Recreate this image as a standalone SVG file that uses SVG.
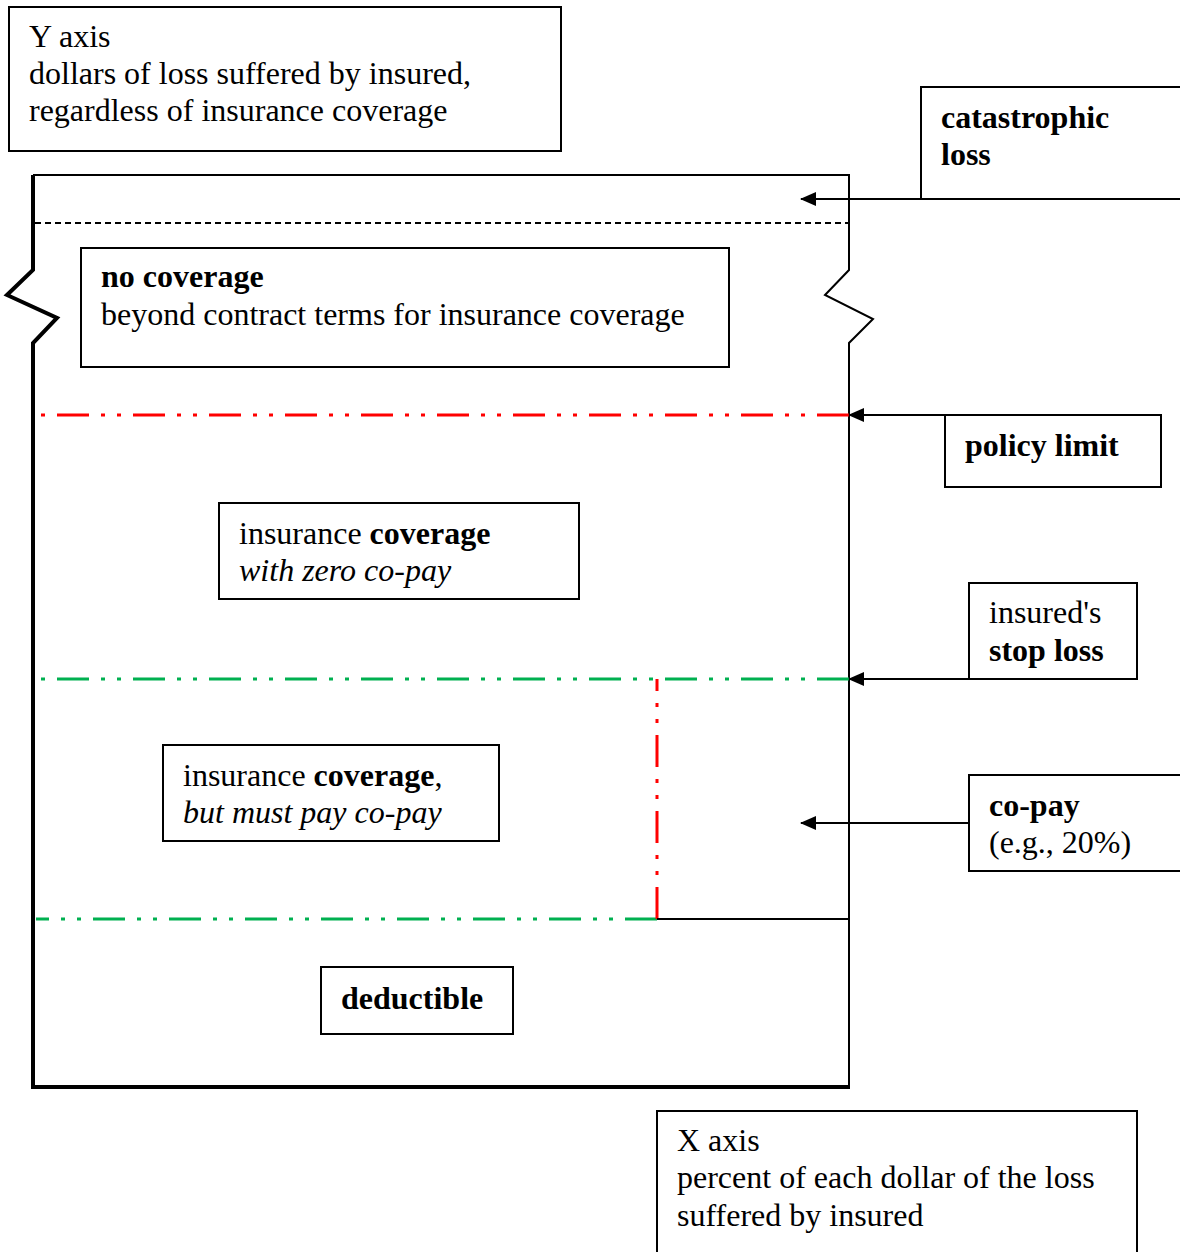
<svg xmlns="http://www.w3.org/2000/svg" width="1180" height="1252" viewBox="0 0 1180 1252">
<defs>
<marker id="ah" markerWidth="16" markerHeight="14" refX="15" refY="7" orient="auto" markerUnits="userSpaceOnUse">
<path d="M0,0 L16,7 L0,14 Z" fill="#000"/>
</marker>
<style>
text{font-family:"Liberation Serif","Times New Roman",serif;font-size:32px;fill:#000}
.b{font-weight:bold}
.i{font-style:italic}
.box{fill:#fff;stroke:#000;stroke-width:2}
.ln{fill:none;stroke:#000;stroke-width:2}
.ax{fill:none;stroke:#000;stroke-width:4}
.red{fill:none;stroke:#ff0000;stroke-width:3;stroke-dasharray:4 12 32 12 4 12}
.grn{fill:none;stroke:#00b050;stroke-width:3;stroke-dasharray:4 12 32 12 4 12}
.arr{fill:none;stroke:#000;stroke-width:2;marker-end:url(#ah)}
</style>
</defs>
<g id="frame">
<path class="ln" d="M33,175 H849 V270 L825,295 L873,319 L849,343 V1089"/>
<path class="ax" d="M33,175 V270 L7,295 L57,318 L33,343 V1087 H849"/>
<line x1="35" y1="223" x2="849" y2="223" stroke="#000" stroke-width="2" stroke-dasharray="6 4"/>
<line class="red" x1="41" y1="415" x2="849" y2="415"/>
<line class="grn" x1="41" y1="679" x2="849" y2="679"/>
<line class="grn" x1="36" y1="919" x2="657" y2="919" style="stroke-dasharray:32 12 4 12 4 12;stroke-dashoffset:19"/>
<line class="red" x1="657" y1="679" x2="657" y2="919" style="stroke-dasharray:32 12 4 12 4 12;stroke-dashoffset:20"/>
<line class="ln" x1="657" y1="919" x2="849" y2="919"/>
</g>
<g id="y-axis">
<rect class="box" x="9" y="7" width="552" height="144"/>
<text x="29" y="47">Y axis</text>
<text x="29" y="84">dollars of loss suffered by insured,</text>
<text x="29" y="121">regardless of insurance coverage</text>
</g>
<g id="catastrophic">
<path class="ln" d="M1182,87 H921 V199 H1182"/>
<text class="b" x="941" y="128">catastrophic</text>
<text class="b" x="941" y="165">loss</text>
</g>
<g id="no-coverage">
<rect class="box" x="81" y="248" width="648" height="119"/>
<text class="b" x="101" y="287">no coverage</text>
<text x="101" y="325">beyond contract terms for insurance coverage</text>
</g>
<g id="policy-limit">
<rect class="box" x="945" y="415" width="216" height="72"/>
<text class="b" x="965" y="456">policy limit</text>
</g>
<g id="zero-copay">
<rect class="box" x="219" y="503" width="360" height="96"/>
<text x="239" y="544">insurance <tspan class="b">coverage</tspan></text>
<text class="i" x="239" y="581">with zero co-pay</text>
</g>
<g id="stop-loss">
<rect class="box" x="969" y="583" width="168" height="96"/>
<text x="989" y="623">insured's</text>
<text class="b" x="989" y="661">stop loss</text>
</g>
<g id="with-copay">
<rect class="box" x="163" y="745" width="336" height="96"/>
<text x="183" y="786">insurance <tspan class="b">coverage</tspan>,</text>
<text class="i" x="183" y="823">but must pay co-pay</text>
</g>
<g id="co-pay">
<rect class="box" x="969" y="775" width="220" height="96"/>
<text class="b" x="989" y="816">co-pay</text>
<text x="989" y="853">(e.g., 20%)</text>
</g>
<g id="deductible">
<rect class="box" x="321" y="967" width="192" height="67"/>
<text class="b" x="341" y="1009">deductible</text>
</g>
<g id="x-axis">
<rect class="box" x="657" y="1111" width="480" height="150"/>
<text x="677" y="1151">X axis</text>
<text x="677" y="1188">percent of each dollar of the loss</text>
<text x="677" y="1226">suffered by insured</text>
</g>
<g id="connectors">
<line class="arr" x1="921" y1="199" x2="801" y2="199"/>
<line class="arr" x1="970" y1="415" x2="849" y2="415"/>
<line class="arr" x1="969" y1="679" x2="849" y2="679"/>
<line class="arr" x1="969" y1="823" x2="801" y2="823"/>
</g>
</svg>
